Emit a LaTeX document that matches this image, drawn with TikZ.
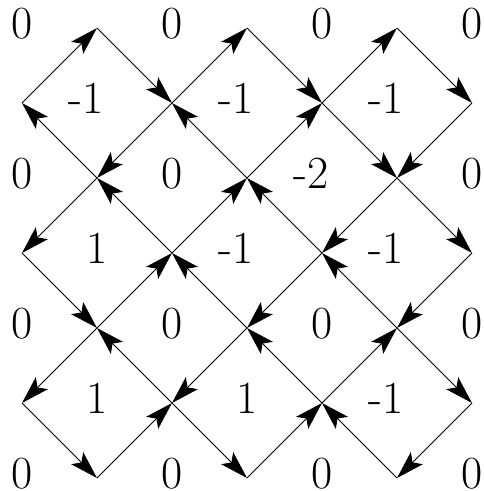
\documentclass[tikz,border=0pt]{standalone}
\usetikzlibrary{arrows.meta}

\begin{document}
\begin{tikzpicture}[
  x=37.5pt,y=-37.5pt,
  num/.style={inner sep=0pt,font=\fontsize{23}{28}\selectfont,yshift=2.4pt},
  neg/.style={num,xshift=-5.5pt},
  flow/.style={-{Stealth[length=14pt,width=8.5pt,inset=3pt]},line width=0.5pt},
]
  \useasboundingbox (-0.2933,-0.3733) rectangle (6.1467,6.1733);

  % lattice points
  \foreach \i in {0,...,6}
    \foreach \j in {0,...,6}
      \coordinate (v\i\j) at (\i,\j);

  % rows 0 and 1
  \draw[flow] (v01) -- (v10);
  \draw[flow] (v10) -- (v21);
  \draw[flow] (v21) -- (v30);
  \draw[flow] (v30) -- (v41);
  \draw[flow] (v41) -- (v50);
  \draw[flow] (v50) -- (v61);

  % rows 1 and 2
  \draw[flow] (v12) -- (v01);
  \draw[flow] (v21) -- (v12);
  \draw[flow] (v32) -- (v21);
  \draw[flow] (v32) -- (v41);
  \draw[flow] (v41) -- (v52);
  \draw[flow] (v61) -- (v52);

  % rows 2 and 3
  \draw[flow] (v12) -- (v03);
  \draw[flow] (v23) -- (v12);
  \draw[flow] (v23) -- (v32);
  \draw[flow] (v43) -- (v32);
  \draw[flow] (v52) -- (v43);
  \draw[flow] (v52) -- (v63);

  % rows 3 and 4
  \draw[flow] (v03) -- (v14);
  \draw[flow] (v14) -- (v23);
  \draw[flow] (v34) -- (v23);
  \draw[flow] (v43) -- (v34);
  \draw[flow] (v54) -- (v43);
  \draw[flow] (v63) -- (v54);

  % rows 4 and 5
  \draw[flow] (v14) -- (v05);
  \draw[flow] (v25) -- (v14);
  \draw[flow] (v34) -- (v25);
  \draw[flow] (v45) -- (v34);
  \draw[flow] (v45) -- (v54);
  \draw[flow] (v54) -- (v65);

  % rows 5 and 6
  \draw[flow] (v05) -- (v16);
  \draw[flow] (v16) -- (v25);
  \draw[flow] (v25) -- (v36);
  \draw[flow] (v36) -- (v45);
  \draw[flow] (v56) -- (v45);
  \draw[flow] (v65) -- (v56);

  % values on the even rows
  \node[num] (n00) at (0,0) {0};
  \node[num] (n20) at (2,0) {0};
  \node[num] (n40) at (4,0) {0};
  \node[num] (n60) at (6,0) {0};
  \node[num] (n02) at (0,2) {0};
  \node[num] (n22) at (2,2) {0};
  \node[neg] (n42) at (4,2) {-2};
  \node[num] (n62) at (6,2) {0};
  \node[num] (n04) at (0,4) {0};
  \node[num] (n24) at (2,4) {0};
  \node[num] (n44) at (4,4) {0};
  \node[num] (n64) at (6,4) {0};
  \node[num] (n06) at (0,6) {0};
  \node[num] (n26) at (2,6) {0};
  \node[num] (n46) at (4,6) {0};
  \node[num] (n66) at (6,6) {0};

  % values inside the diamonds
  \node[neg] (n11) at (1,1) {-1};
  \node[neg] (n31) at (3,1) {-1};
  \node[neg] (n51) at (5,1) {-1};
  \node[num] (n13) at (1,3) {1};
  \node[neg] (n33) at (3,3) {-1};
  \node[neg] (n53) at (5,3) {-1};
  \node[num] (n15) at (1,5) {1};
  \node[num] (n35) at (3,5) {1};
  \node[neg] (n55) at (5,5) {-1};
\end{tikzpicture}
\end{document}
